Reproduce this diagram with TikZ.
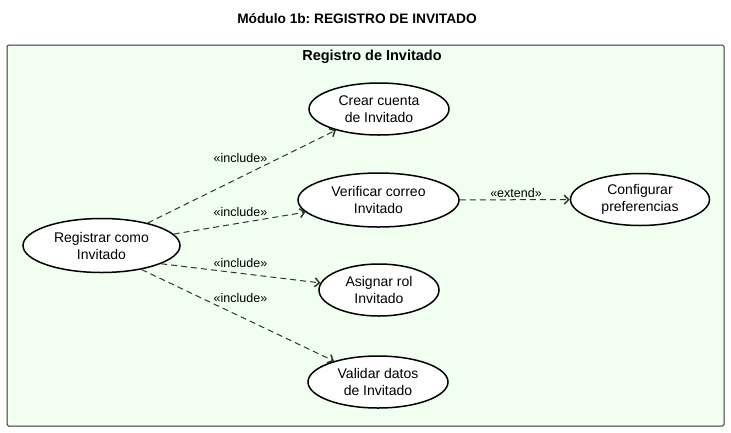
\documentclass[tikz,border=0pt]{standalone}
\usepackage{fontspec}
\setmainfont{Liberation Sans}
\usetikzlibrary{shapes.geometric,arrows.meta}
\definecolor{bggreen}{HTML}{F0FFF0}
\definecolor{edgegray}{HTML}{333333}
\frenchspacing
\begin{document}
\begin{tikzpicture}[x=1pt,y=-1pt,
 uc/.style={ellipse,draw=black,line width=1.5pt,fill=white,inner sep=0pt,align=center,font=\fontsize{14}{17}\selectfont},
 rel/.style={draw=edgegray,line width=1pt,dash pattern=on 6pt off 4pt,-{Straight Barb[length=4.5pt,width=9pt,line width=1.5pt]}},
 lbl/.style={font=\fontsize{12.5}{15}\selectfont,inner sep=0pt}]
\useasboundingbox (0,0) rectangle (731,432);
\node[font=\bfseries\fontsize{13.7}{16}\selectfont] (title) at (357,19) {Módulo 1b: REGISTRO DE INVITADO};
\node[draw=edgegray,fill=bggreen,rounded corners=1.5pt,line width=1pt,minimum width=717pt,minimum height=381pt,inner sep=0pt] (sys) at (365.5,235.5) {};
\node[font=\bfseries\fontsize{14.5}{16}\selectfont] (systitle) at (372,57) {Registro de Invitado};
\node[uc,minimum width=157pt,minimum height=54pt] (reg) at (101.5,245.5) {Registrar como\\Invitado};
\node[uc,minimum width=140pt,minimum height=52pt] (crear) at (379,109) {Crear cuenta\\de Invitado};
\node[uc,minimum width=161pt,minimum height=54pt] (ver) at (378.5,200) {Verificar correo\\Invitado};
\node[uc,minimum width=139pt,minimum height=52pt] (conf) at (640,199.5) {Configurar\\preferencias};
\node[uc,minimum width=120pt,minimum height=52pt] (asig) at (379,290) {Asignar rol\\Invitado};
\node[uc,minimum width=140pt,minimum height=52pt] (val) at (378,382) {Validar datos\\de Invitado};
\draw[rel] (reg.26) -- (crear);
\draw[rel] (reg.9) -- (ver);
\draw[rel] (reg.-17) -- (asig);
\draw[rel] (reg.-31) -- (val);
\draw[rel] (ver) -- (conf);
\node[lbl] (l1) at (240.5,158) {«include»};
\node[lbl] (l2) at (240.5,212) {«include»};
\node[lbl] (l3) at (240.5,263) {«include»};
\node[lbl] (l4) at (240.5,298) {«include»};
\node[lbl] (l5) at (516,193) {«extend»};
\end{tikzpicture}
\end{document}
